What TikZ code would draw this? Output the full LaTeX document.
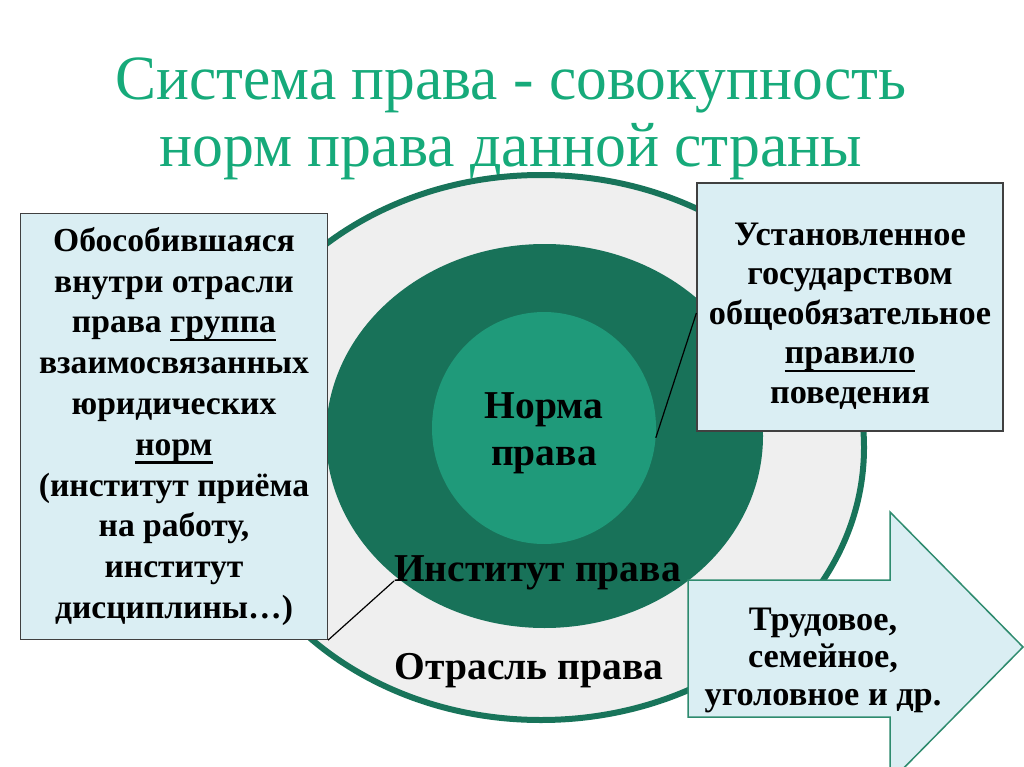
\documentclass[tikz,border=0pt]{standalone}
\usepackage{fontspec}
\setmainfont{Liberation Serif}
\usepackage{graphicx}
\usetikzlibrary{positioning}
\usetikzlibrary{shapes}
\definecolor{titlegreen}{RGB}{22,170,122}
\definecolor{ringgreen}{RGB}{24,116,90}
\definecolor{darkgreen}{RGB}{24,114,89}
\definecolor{midgreen}{RGB}{31,154,122}
\definecolor{ringgray}{RGB}{239,239,239}
\definecolor{boxblue}{RGB}{218,238,243}
\definecolor{arrowgreen}{RGB}{46,139,110}
\newcommand{\ulword}[1]{\setbox0\hbox{#1}\leavevmode
  \rlap{\raisebox{-8.5pt}{\rule{\wd0}{2.4pt}}}\box0}
\tikzset{
  heading/.style={anchor=base, text=titlegreen, inner sep=0,
    font=\fontsize{63}{70}\selectfont},
  ringshape/.style={ellipse, inner sep=0},
  infobox/.style={draw=black!75, line width=1.2pt, fill=boxblue,
    align=center, inner sep=0, font=\bfseries\fontsize{33.6}{40.8}\selectfont},
  ringlabel/.style={anchor=base, inner sep=0,
    font=\bfseries\fontsize{39.5}{47}\selectfont},
  link/.style={black, line width=1.2pt}
}

\begin{document}
\begin{tikzpicture}[x=1pt,y=-1pt]
  \useasboundingbox (0,0) rectangle (1024,767);
  % title
  \node[heading] (head1) at (511,100) {\scalebox{0.975}[1]{Система права - совокупность}};
  \node[heading] (head2) at (511,167) {\scalebox{0.98}[1]{норм права данной страны}};

  % rings
  \node[ringshape, draw=ringgreen, line width=6pt, fill=ringgray,
    minimum width=646pt, minimum height=545pt] (branch) at (541,447.5) {};
  \node[ringshape, fill=darkgreen,
    minimum width=437pt, minimum height=384pt] (institute) at (544.5,436) {};
  \node[ringshape, fill=midgreen,
    minimum width=224pt, minimum height=232pt] (norm) at (544,428) {};

  \node[ringlabel, align=center, anchor=center] (normlabel) at (544,433) {Норма\\права};
  \node[ringlabel] (instlabel) at (537.5,581) {Институт права};
  \node[ringlabel] (branchlabel) at (529,679) {Отрасль права};

  % boxes
  \node[infobox, minimum width=307pt, minimum height=426pt] (groupbox) at (174,426.5)
    {Обособившаяся\\внутри отрасли\\права \ulword{группа}\\взаимосвязанных\\юридических\\
     \ulword{норм}\\(институт приёма\\на работу,\\институт\\дисциплины…)};
  \node[infobox, minimum width=306pt, minimum height=248pt,
    font=\bfseries\fontsize{34.3}{39.5}\selectfont] (rulebox) at (850,307)
    {\rule{0pt}{40pt}Установленное\\государством\\общеобязательное\\\ulword{правило}\\поведения};

  % arrow
  \draw[draw=arrowgreen, line width=1.5pt, fill=boxblue]
    (688,580) -- (890,580) -- (890,512) -- (1023,647) -- (890,782)
    -- (890,717) -- (688,717) -- cycle;
  \node[infobox, draw=none, fill=none, font=\bfseries\fontsize{34.3}{37.5}\selectfont]
    (branchtext) at (823,660) {Трудовое,\\семейное,\\уголовное и др.};

  % connectors
  \draw[link] (groupbox.south east) -- (instlabel.base west);
  \draw[link] (norm.-5) -- ([yshift=-6pt]rulebox.west);
\end{tikzpicture}
\end{document}
